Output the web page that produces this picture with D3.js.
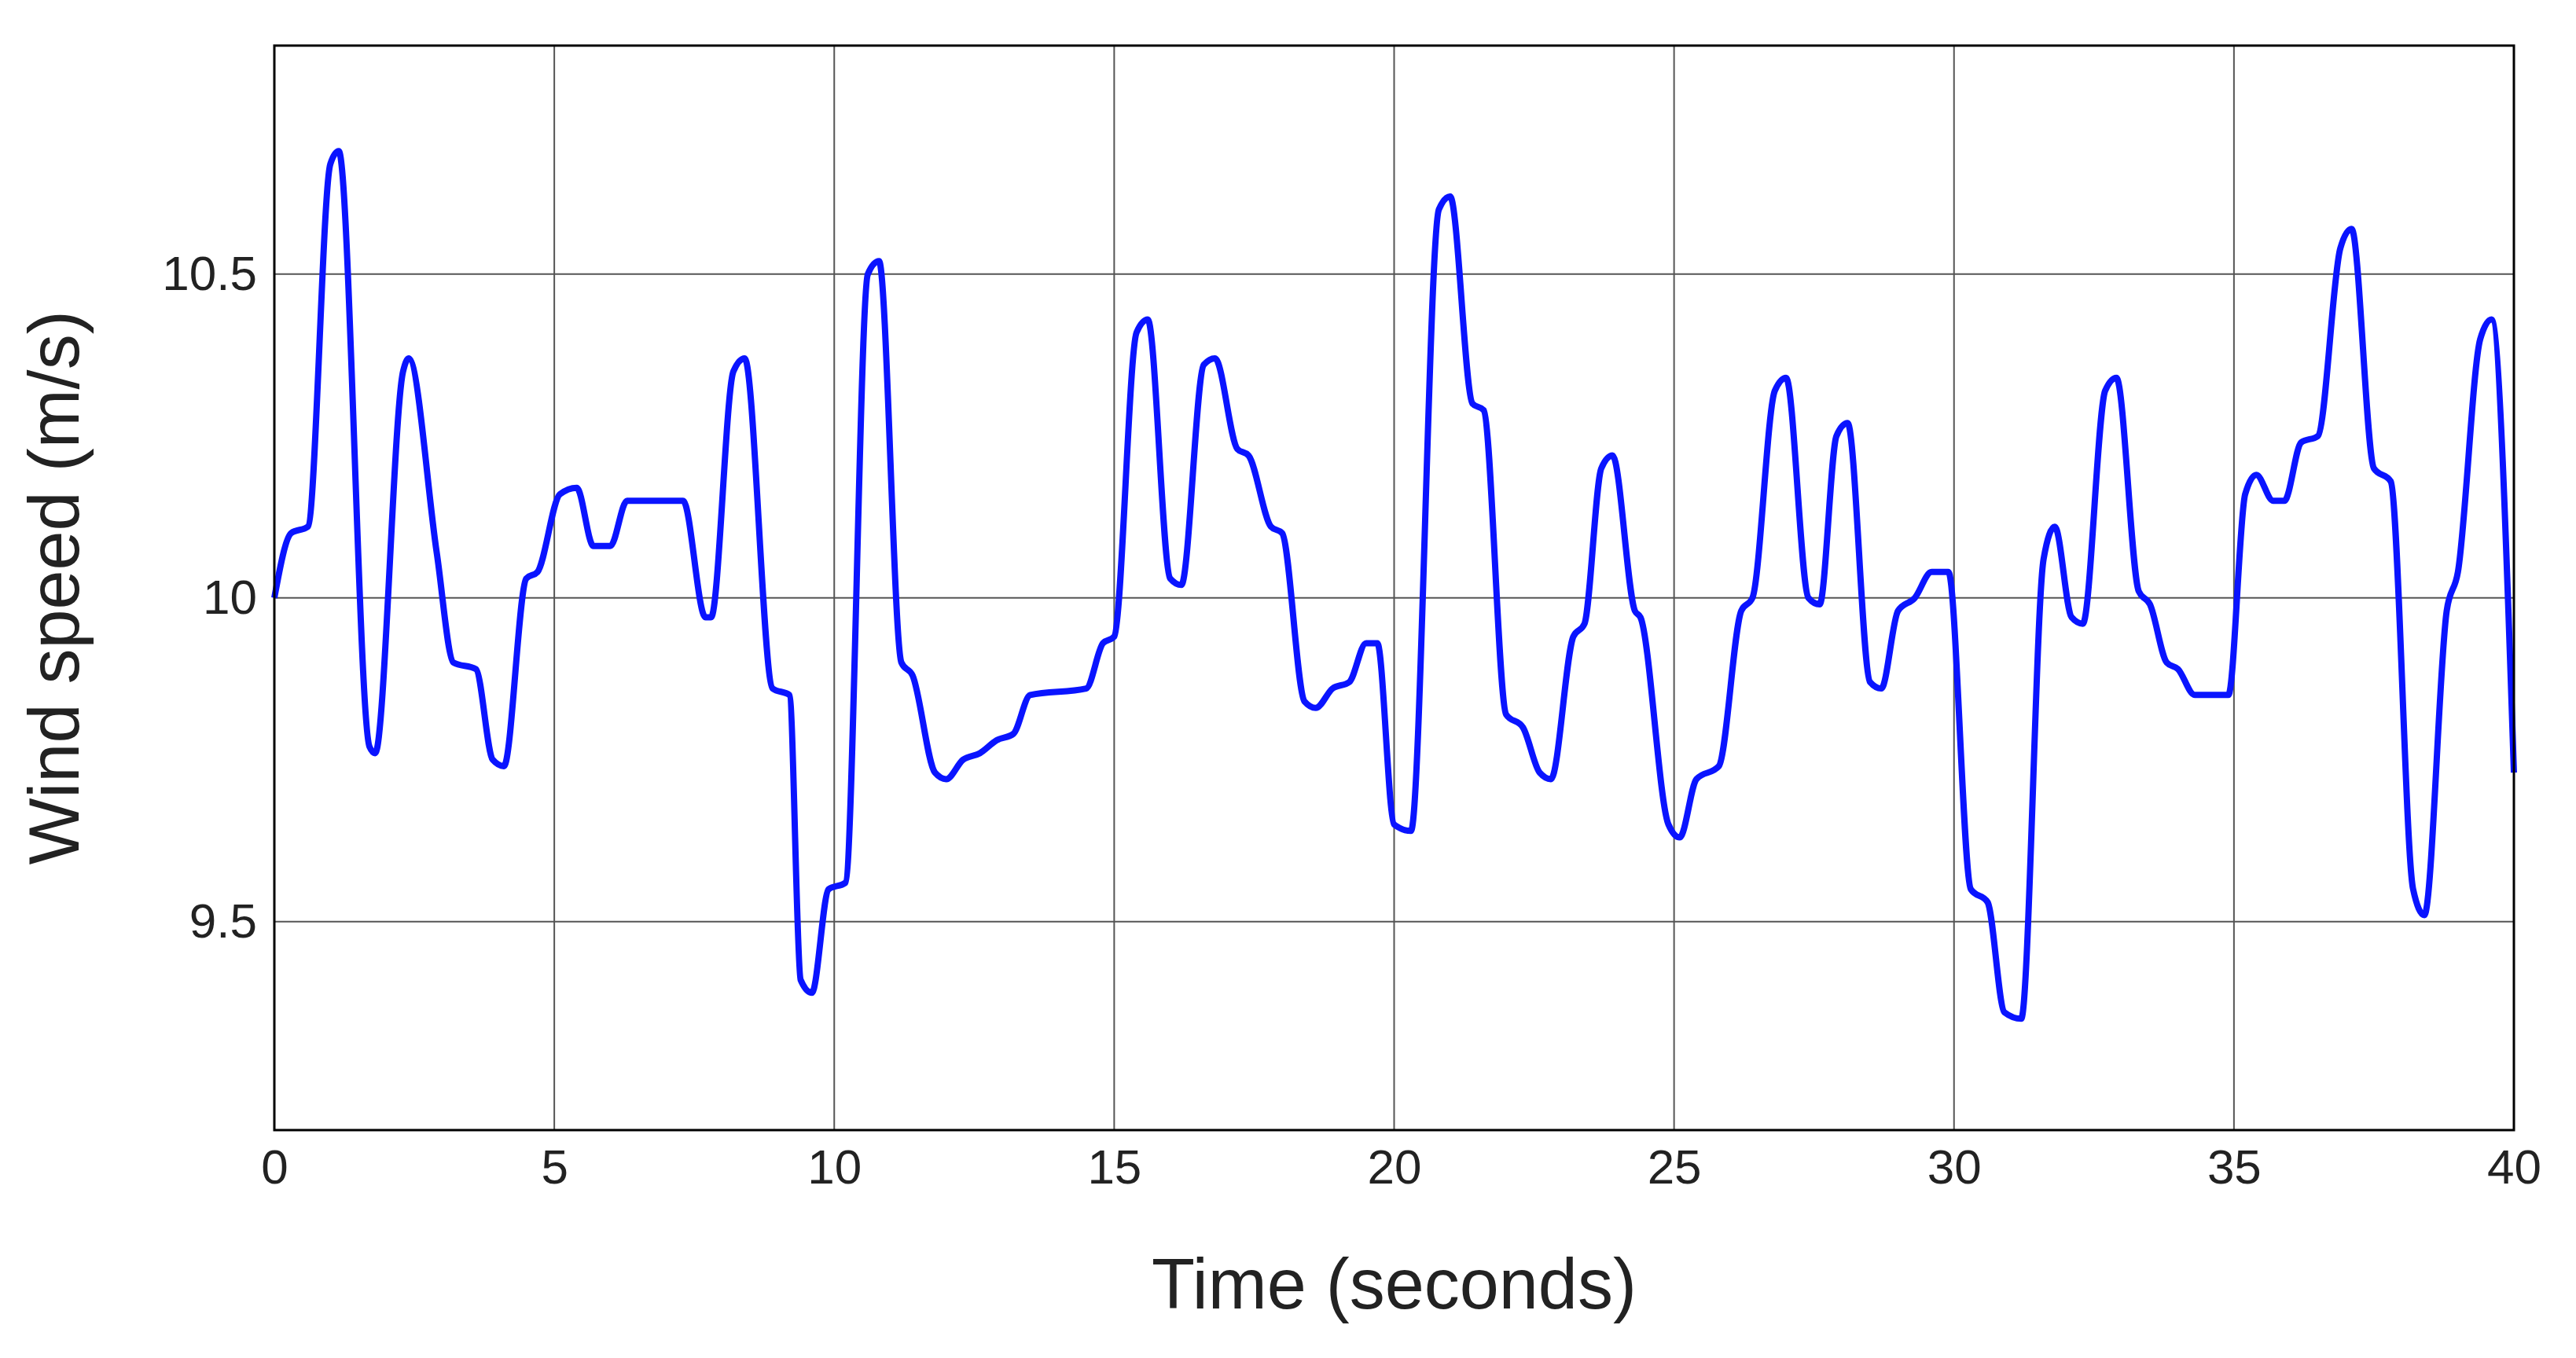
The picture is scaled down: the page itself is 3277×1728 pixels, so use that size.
<!DOCTYPE html>
<html>
<head>
<script src="https://d3js.org/d3.v7.min.js"></script>
<style>
  body { margin: 0; background: #fff; }
  text { font-family: Arial, "Liberation Sans", sans-serif; fill: #222; }
</style>
</head>
<body>
<svg id="chart"></svg>
<script>
// time (s) and wind speed (m/s)
const times = [0,0.3,0.6,1.0,1.15,1.7,1.8,2.3,2.4,2.9,3.2,3.6,3.9,4.1,4.5,4.7,5.1,5.4,5.7,6.0,6.3,7.3,7.7,7.8,8.2,8.4,8.9,9.2,9.4,9.6,9.9,10.2,10.6,10.8,11.2,11.4,11.8,12.0,12.3,12.6,12.9,13.2,13.5,14.5,14.8,15.0,15.4,15.6,16.0,16.2,16.6,16.8,17.2,17.4,17.8,18.0,18.4,18.6,18.9,19.2,19.5,19.7,20.0,20.3,20.8,21.0,21.4,21.6,22.0,22.3,22.6,22.8,23.2,23.4,23.7,23.9,24.3,24.4,24.9,25.1,25.4,25.8,26.2,26.4,26.8,27.0,27.4,27.6,27.9,28.1,28.5,28.7,29.0,29.3,29.6,29.9,30.3,30.6,30.9,31.2,31.6,31.8,32.1,32.3,32.7,32.9,33.3,33.5,33.8,34.0,34.3,34.9,35.2,35.4,35.7,35.9,36.2,36.5,36.9,37.1,37.5,37.8,38.2,38.4,38.8,39.0,39.4,39.6,40];
const speeds = [10.0,10.1,10.11,10.67,10.69,9.77,9.76,10.35,10.37,10.07,9.9,9.89,9.75,9.74,10.03,10.04,10.16,10.17,10.08,10.08,10.15,10.15,9.97,9.97,10.35,10.37,9.86,9.85,9.41,9.39,9.55,9.56,10.5,10.52,9.9,9.88,9.73,9.72,9.75,9.76,9.78,9.79,9.85,9.86,9.93,9.94,10.41,10.43,10.03,10.02,10.36,10.37,10.23,10.22,10.11,10.1,9.84,9.83,9.86,9.87,9.93,9.93,9.65,9.64,10.6,10.62,10.3,10.29,9.82,9.8,9.73,9.72,9.94,9.96,10.2,10.22,9.98,9.97,9.65,9.63,9.72,9.74,9.98,10.0,10.32,10.34,10.0,9.99,10.25,10.27,9.87,9.86,9.98,10.0,10.04,10.04,9.55,9.53,9.36,9.35,10.06,10.11,9.97,9.96,10.32,10.34,10.01,9.99,9.9,9.89,9.85,9.85,10.16,10.19,10.15,10.15,10.24,10.25,10.54,10.57,10.2,10.18,9.55,9.51,9.98,10.04,10.4,10.43,9.73];
const xTicks = [0,5,10,15,20,25,30,35,40];
const yTicks = [9.5,10,10.5];

const W = 3277, H = 1728;
const m = {left: 349, top: 58, right: 79, bottom: 290};
const w = W - m.left - m.right, h = H - m.top - m.bottom;
const svg = d3.select("#chart").attr("width", W).attr("height", H);
const g = svg.append("g").attr("transform", `translate(${m.left},${m.top})`);

const x = d3.scaleLinear().domain([0, 40]).range([0, w]);
const y = d3.scaleLinear().domain([9.178, 10.853]).range([h, 0]);

// grid
g.append("g").selectAll("line").data(xTicks).join("line")
  .attr("x1", d => x(d)).attr("x2", d => x(d)).attr("y1", 0).attr("y2", h)
  .attr("stroke", "#555").attr("stroke-width", 2);
g.append("g").selectAll("line").data(yTicks).join("line")
  .attr("y1", d => y(d)).attr("y2", d => y(d)).attr("x1", 0).attr("x2", w)
  .attr("stroke", "#555").attr("stroke-width", 2);

// axes
const xa = g.append("g").attr("transform", `translate(0,${h})`)
  .call(d3.axisBottom(x).tickValues(xTicks).tickSize(0).tickPadding(24));
const ya = g.append("g")
  .call(d3.axisLeft(y).tickValues(yTicks).tickFormat(d3.format("")).tickSize(0).tickPadding(22));
[xa, ya].forEach(a => {
  a.select(".domain").remove();
  a.selectAll("text").style("font-size", "62px").attr("fill", "#222");
});

// line
const data = times.map((t, i) => ({t, v: speeds[i]}));
g.append("path").datum(data)
  .attr("fill", "none").attr("stroke", "#0a14ff").attr("stroke-width", 8)
  .attr("d", d3.line().x(d => x(d.t)).y(d => y(d.v)).curve(d3.curveMonotoneX));

// frame
g.append("rect").attr("width", w).attr("height", h)
  .attr("fill", "none").attr("stroke", "#000").attr("stroke-width", 3);

// labels
svg.append("text").attr("x", m.left + w / 2).attr("y", 1665)
  .attr("text-anchor", "middle").style("font-size", "90px").text("Time (seconds)");
svg.append("text").attr("transform", `translate(100,${m.top + h / 2}) rotate(-90)`)
  .attr("text-anchor", "middle").style("font-size", "90px").text("Wind speed (m/s)");
</script>
</body>
</html>
